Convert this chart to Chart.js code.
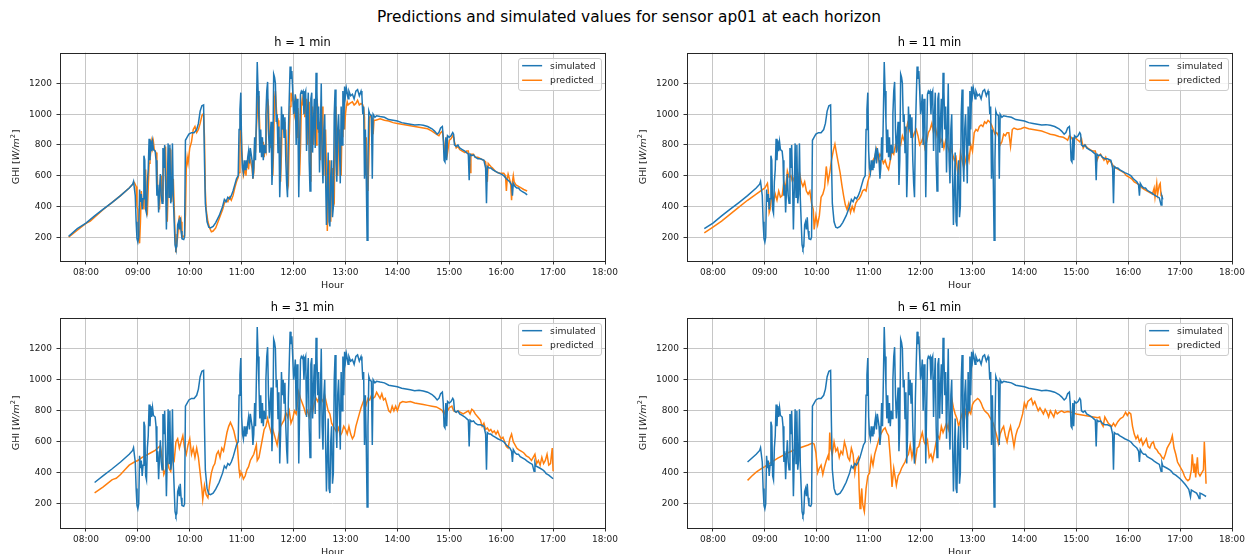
<!DOCTYPE html>
<html>
<head>
<meta charset="utf-8">
<script src="https://cdn.jsdelivr.net/npm/chart.js@4.4.1/dist/chart.umd.min.js"></script>
<style>
  html, body { margin: 0; padding: 0; background: #fff; overflow: hidden; width: 1248px; height: 554px; }
  #suptitle { position: absolute; left: 0; top: 7px; width: 1258px; text-align: center;
              font: 15.4px "DejaVu Sans"; line-height: 20px; color: #000; }
  .panel { position: absolute; width: 621px; }
</style>
</head>
<body>
<div id="suptitle">Predictions and simulated values for sensor ap01 at each horizon</div>
<div class="panel" style="left:0px;top:36px;height:258px"><canvas id="c0"></canvas></div>
<div class="panel" style="left:627px;top:36px;height:258px"><canvas id="c1"></canvas></div>
<div class="panel" style="left:0px;top:301px;height:260px"><canvas id="c2"></canvas></div>
<div class="panel" style="left:627px;top:301px;height:260px"><canvas id="c3"></canvas></div>
<script>
// ---------- data ----------
const horizons = [1, 11, 31, 61];
const windowStart = ['07:40', '07:50', '08:10', '08:40'];
const windowEnd = ['16:30', '16:40', '17:00', '17:30'];
const hourTicks = ['08:00','09:00','10:00','11:00','12:00','13:00','14:00','15:00','16:00','17:00','18:00'];
const ghiTicks = [200, 400, 600, 800, 1000, 1200];

// simulated GHI, same series in every panel (each panel shows its own window)
const simulated = [
  ['07:40',205],['07:50',255],['08:00',292],['08:10',338],['08:20',382],['08:30',425],['08:40',470],['08:50',520],
  ['08:54',545],['08:55',562],['08:57',470],['08:58',300],['08:59',190],['09:00',168],['09:01',200],['09:02',510],
  ['09:03',430],['09:04',480],['09:05',380],['09:06',450],['09:07',730],['09:08',700],['09:09',380],['09:10',355],
  ['09:11',560],['09:12',640],['09:13',840],['09:14',700],['09:15',830],['09:16',760],['09:17',820],['09:18',770],
  ['09:20',760],['09:21',700],['09:22',470],['09:23',540],['09:24',360],['09:25',500],['09:26',610],['09:27',470],
  ['09:28',420],['09:29',780],['09:30',650],['09:31',800],['09:32',560],['09:33',250],['09:34',500],['09:35',810],
  ['09:36',460],['09:37',800],['09:38',420],['09:39',480],['09:40',810],['09:41',450],['09:42',300],['09:43',150],
  ['09:44',125],['09:45',140],['09:46',280],['09:47',300],['09:48',250],['09:49',330],['09:50',240],['09:51',190],
  ['09:53',185],['09:54',200],['09:55',830],['09:57',850],['09:59',870],['10:02',880],['10:05',880],['10:08',900],
  ['10:10',940],['10:12',1020],['10:14',1055],['10:16',1060],['10:17',700],['10:18',420],['10:20',300],['10:22',265],
  ['10:24',260],['10:27',270],['10:30',295],['10:34',340],['10:38',400],['10:40',445],['10:42',430],['10:44',460],
  ['10:46',450],['10:48',470],['10:50',500],['10:52',540],['10:54',580],['10:56',600],['10:57',900],['10:58',1030],
  ['10:59',1140],['11:00',760],['11:01',650],['11:02',620],['11:03',700],['11:04',640],['11:05',700],['11:06',650],
  ['11:07',720],['11:08',760],['11:09',680],['11:10',780],['11:11',740],['11:12',700],['11:13',580],['11:14',650],
  ['11:15',850],['11:16',700],['11:17',1000],['11:18',1340],['11:19',1150],['11:20',950],['11:21',750],['11:22',900],
  ['11:23',720],['11:24',850],['11:25',700],['11:26',800],['11:27',750],['11:28',1000],['11:29',1150],['11:30',1210],
  ['11:31',900],['11:32',750],['11:33',850],['11:34',950],['11:35',540],['11:36',700],['11:37',1260],['11:38',1240],
  ['11:39',1200],['11:40',950],['11:41',1000],['11:42',750],['11:43',920],['11:44',460],['11:45',650],['11:46',1050],
  ['11:47',900],['11:48',1000],['11:49',850],['11:50',980],['11:51',700],['11:52',550],['11:53',460],['11:54',880],
  ['11:55',1100],['11:56',1310],['11:57',1230],['11:58',1280],['11:59',1150],['12:00',1000],['12:01',1050],['12:02',1130],
  ['12:03',800],['12:04',1100],['12:05',960],['12:06',460],['12:07',800],['12:08',1130],['12:09',1150],['12:10',1140],
  ['12:11',1150],['12:12',1000],['12:13',1130],['12:14',1150],['12:15',760],['12:16',1000],['12:17',1140],['12:18',700],
  ['12:19',500],['12:20',1100],['12:21',1140],['12:22',750],['12:23',950],['12:24',1100],['12:25',780],['12:26',1270],
  ['12:27',1150],['12:28',900],['12:29',1050],['12:30',620],['12:31',900],['12:32',1200],['12:33',700],['12:34',550],
  ['12:35',900],['12:36',1000],['12:37',600],['12:38',280],['12:39',500],['12:40',750],['12:41',300],['12:42',270],
  ['12:43',600],['12:44',700],['12:45',330],['12:46',400],['12:47',1000],['12:48',1160],['12:49',700],['12:50',560],
  ['12:51',900],['12:52',1000],['12:53',800],['12:54',550],['12:55',1050],['12:56',800],['12:57',1150],['12:58',900],
  ['12:59',1180],['13:00',1120],['13:01',1170],['13:02',1140],['13:03',1100],['13:04',1150],['13:06',1120],['13:08',1130],
  ['13:10',1100],['13:12',1150],['13:14',1160],['13:16',1120],['13:18',1150],['13:19',1120],['13:20',1000],['13:21',1050],
  ['13:22',580],['13:23',900],['13:24',600],['13:25',180],['13:26',700],['13:27',1020],['13:28',1000],['13:30',990],
  ['13:31',580],['13:32',1000],['13:34',980],['13:36',990],['13:40',985],['13:45',980],['13:50',965],['13:55',960],
  ['14:00',955],['14:05',945],['14:10',940],['14:15',935],['14:20',930],['14:25',932],['14:30',928],['14:35',920],
  ['14:40',905],['14:43',890],['14:46',870],['14:48',880],['14:50',910],['14:52',920],['14:53',850],['14:54',700],
  ['14:55',690],['14:56',850],['14:57',700],['14:58',860],['15:00',850],['15:02',860],['15:04',880],['15:05',870],
  ['15:06',800],['15:08',790],['15:10',800],['15:12',780],['15:15',770],['15:18',760],['15:20',750],['15:22',740],
  ['15:23',570],['15:24',740],['15:26',730],['15:28',735],['15:30',720],['15:33',710],['15:36',710],['15:40',700],
  ['15:42',650],['15:43',420],['15:44',660],['15:46',650],['15:48',650],['15:50',640],['15:53',630],['15:56',620],
  ['16:00',610],['16:03',600],['16:06',580],['16:08',570],['16:10',560],['16:12',540],['16:13',470],['16:14',550],
  ['16:16',530],['16:18',520],['16:20',520],['16:22',505],['16:25',495],['16:28',485],['16:30',475],['16:33',465],
  ['16:36',455],['16:38',410],['16:39',465],['16:40',445],['16:45',430],['16:48',420],['16:50',410],['16:52',395],
  ['16:55',385],['17:00',362],['17:03',345],['17:06',325],['17:08',310],['17:10',295],['17:12',245],['17:13',290],
  ['17:16',280],['17:19',270],['17:21',250],['17:22',235],['17:23',270],['17:25',265],['17:28',255],['17:30',248]
];

// predicted GHI, h = 1 min
const predicted1 = [
  ['07:40',200],['07:50',245],['08:00',290],['08:05',305],['08:10',330],['08:20',380],['08:30',425],['08:40',470],
  ['08:50',520],['08:56',555],['08:58',530],['08:59',400],['09:00',380],['09:01',200],['09:02',160],['09:03',300],
  ['09:04',500],['09:05',400],['09:06',450],['09:07',380],['09:08',600],['09:09',640],['09:10',380],['09:11',360],
  ['09:12',520],['09:13',680],['09:14',800],['09:15',760],['09:16',820],['09:17',780],['09:18',820],['09:19',770],
  ['09:21',750],['09:22',700],['09:23',500],['09:24',480],['09:25',380],['09:26',520],['09:27',600],['09:28',470],
  ['09:29',430],['09:30',750],['09:31',680],['09:32',790],['09:33',520],['09:34',300],['09:35',500],['09:36',780],
  ['09:37',470],['09:38',770],['09:39',430],['09:40',490],['09:41',580],['09:42',400],['09:43',220],['09:44',100],
  ['09:45',160],['09:46',200],['09:47',280],['09:48',340],['09:49',260],['09:50',300],['09:51',220],['09:52',200],
  ['09:54',210],['09:55',350],['09:56',650],['09:57',720],['09:58',680],['10:00',780],['10:02',820],['10:04',900],
  ['10:06',920],['10:08',880],['10:10',900],['10:12',940],['10:14',990],['10:15',1000],['10:16',1000],['10:17',850],
  ['10:18',500],['10:19',380],['10:21',300],['10:23',260],['10:25',235],['10:27',240],['10:30',260],['10:34',320],
  ['10:38',380],['10:40',420],['10:42',440],['10:44',430],['10:46',460],['10:48',440],['10:50',470],['10:52',520],
  ['10:54',560],['10:56',590],['10:57',620],['10:58',800],['10:59',1000],['11:00',800],['11:01',680],['11:02',600],
  ['11:03',620],['11:04',660],['11:05',600],['11:06',680],['11:07',700],['11:08',640],['11:09',720],['11:10',700],
  ['11:12',650],['11:13',580],['11:14',620],['11:15',800],['11:16',750],['11:17',900],['11:18',1000],['11:19',1120],
  ['11:20',1050],['11:21',900],['11:22',760],['11:23',850],['11:24',740],['11:25',820],['11:26',720],['11:27',780],
  ['11:28',760],['11:29',950],['11:30',1100],['11:31',1050],['11:32',850],['11:33',780],['11:34',900],['11:35',850],
  ['11:36',600],['11:37',800],['11:38',1100],['11:39',1150],['11:40',1050],['11:41',950],['11:42',960],['11:43',780],
  ['11:44',850],['11:45',560],['11:46',750],['11:47',1000],['11:48',900],['11:49',950],['11:50',850],['11:51',900],
  ['11:52',750],['11:53',580],['11:54',550],['11:55',850],['11:56',1050],['11:57',1140],['11:58',1100],['11:59',1120],
  ['12:00',1050],['12:01',1000],['12:02',1050],['12:03',1080],['12:04',850],['12:05',1040],['12:06',950],['12:07',600],
  ['12:08',780],['12:09',1050],['12:10',1100],['12:11',1060],['12:12',1080],['12:13',980],['12:14',1060],['12:15',1100],
  ['12:16',800],['12:17',950],['12:18',1080],['12:19',750],['12:20',560],['12:21',1000],['12:22',1050],['12:23',800],
  ['12:24',880],['12:25',1020],['12:26',800],['12:27',1100],['12:28',1040],['12:29',880],['12:30',950],['12:31',700],
  ['12:32',850],['12:33',1050],['12:34',750],['12:35',600],['12:36',850],['12:37',900],['12:38',650],['12:39',240],
  ['12:40',450],['12:41',700],['12:42',400],['12:43',300],['12:44',600],['12:45',650],['12:46',400],['12:47',420],
  ['12:48',900],['12:49',1050],['12:50',750],['12:51',600],['12:52',850],['12:53',900],['12:54',800],['12:55',600],
  ['12:56',950],['12:57',850],['12:58',1050],['12:59',900],['13:00',1000],['13:01',1050],['13:02',1080],['13:03',1060],
  ['13:05',1070],['13:08',1080],['13:10',1060],['13:12',1070],['13:14',1090],['13:16',1060],['13:18',1070],['13:20',1060],
  ['13:21',1040],['13:22',980],['13:23',600],['13:24',850],['13:25',650],['13:26',500],['13:27',700],['13:28',980],
  ['13:29',990],['13:31',970],['13:32',870],['13:33',960],['13:35',960],['13:40',970],['13:45',960],['13:50',955],
  ['13:55',945],['14:00',940],['14:05',935],['14:10',930],['14:15',925],['14:20',920],['14:25',915],['14:30',910],
  ['14:35',905],['14:40',890],['14:45',870],['14:48',860],['14:50',880],['14:52',890],['14:54',800],['14:55',720],
  ['14:56',780],['14:57',820],['14:58',750],['15:00',830],['15:02',840],['15:04',860],['15:05',850],['15:06',820],
  ['15:08',780],['15:10',790],['15:12',770],['15:15',760],['15:18',750],['15:20',760],['15:22',760],['15:24',620],
  ['15:25',740],['15:28',740],['15:30',720],['15:33',720],['15:36',710],['15:40',700],['15:42',690],['15:44',560],
  ['15:45',680],['15:48',660],['15:50',650],['15:53',630],['15:56',620],['16:00',615],['16:03',615],['16:05',600],
  ['16:06',500],['16:07',580],['16:08',610],['16:10',570],['16:11',540],['16:12',440],['16:13',560],['16:14',600],
  ['16:15',560],['16:17',540],['16:20',530],['16:23',520],['16:26',510],['16:28',505],['16:30',500]
];

// predicted GHI, h = 11 min
const predicted11 = [
  ['07:50',228],['08:00',265],['08:10',305],['08:20',350],['08:30',395],['08:40',440],['08:50',480],['09:00',520],
  ['09:03',550],['09:04',500],['09:05',360],['09:06',380],['09:08',470],['09:10',430],['09:12',480],['09:14',440],
  ['09:16',500],['09:18',460],['09:20',470],['09:22',560],['09:24',520],['09:26',630],['09:28',590],['09:30',600],
  ['09:32',560],['09:34',590],['09:36',520],['09:38',560],['09:40',620],['09:42',560],['09:44',530],['09:46',560],
  ['09:48',500],['09:50',480],['09:52',500],['09:54',420],['09:56',380],['09:57',250],['09:59',340],['10:01',280],
  ['10:03',340],['10:05',460],['10:07',480],['10:09',520],['10:11',660],['10:13',560],['10:15',620],['10:17',700],
  ['10:19',760],['10:21',805],['10:23',740],['10:25',680],['10:27',620],['10:29',540],['10:31',470],['10:33',410],
  ['10:35',380],['10:37',420],['10:39',360],['10:41',400],['10:43',370],['10:45',420],['10:47',440],['10:49',450],
  ['10:51',470],['10:53',500],['10:55',510],['10:57',500],['10:59',560],['11:01',600],['11:03',650],['11:05',700],
  ['11:07',720],['11:09',770],['11:11',700],['11:13',740],['11:15',720],['11:17',680],['11:19',700],['11:21',660],
  ['11:23',640],['11:25',700],['11:27',760],['11:29',740],['11:31',800],['11:33',770],['11:35',820],['11:37',800],
  ['11:39',860],['11:41',830],['11:43',880],['11:45',940],['11:47',900],['11:49',870],['11:51',850],['11:53',880],
  ['11:55',900],['11:57',860],['11:59',800],['12:01',820],['12:03',850],['12:05',780],['12:07',820],['12:09',880],
  ['12:11',900],['12:13',940],['12:15',880],['12:17',920],['12:19',860],['12:21',900],['12:23',820],['12:25',840],
  ['12:27',780],['12:29',830],['12:31',800],['12:33',760],['12:35',780],['12:37',740],['12:39',700],['12:41',720],
  ['12:43',620],['12:44',600],['12:46',750],['12:48',700],['12:50',650],['12:52',700],['12:54',760],['12:56',700],
  ['12:58',800],['13:00',760],['13:02',880],['13:04',900],['13:06',890],['13:08',920],['13:10',930],['13:12',920],
  ['13:14',950],['13:16',940],['13:18',960],['13:20',950],['13:22',930],['13:24',900],['13:26',870],['13:28',880],
  ['13:30',860],['13:32',800],['13:34',820],['13:36',870],['13:38',860],['13:40',880],['13:42',880],['13:44',790],
  ['13:46',900],['13:48',910],['13:52',900],['13:56',905],['14:00',915],['14:05',905],['14:10',900],['14:15',895],
  ['14:20',890],['14:25',880],['14:30',870],['14:35',865],['14:40',855],['14:45',850],['14:48',840],['14:50',830],
  ['14:52',860],['14:54',850],['14:56',830],['14:58',850],['15:00',840],['15:02',830],['15:04',820],['15:06',840],
  ['15:08',780],['15:10',800],['15:13',780],['15:16',770],['15:19',760],['15:22',760],['15:24',700],['15:26',730],
  ['15:28',740],['15:30',720],['15:32',700],['15:34',720],['15:36',680],['15:38',700],['15:40',690],['15:43',660],
  ['15:46',650],['15:49',640],['15:52',630],['15:55',620],['15:58',600],['16:01',590],['16:04',580],['16:07',560],
  ['16:10',550],['16:13',540],['16:16',520],['16:19',510],['16:22',500],['16:25',490],['16:28',480],['16:30',520],
  ['16:31',460],['16:33',550],['16:34',480],['16:36',540],['16:37',550],['16:38',470],['16:40',465]
];

// predicted GHI, h = 31 min
const predicted31 = [
  ['08:10',272],['08:20',310],['08:30',355],['08:32',360],['08:35',365],['08:40',390],['08:45',420],['08:50',450],
  ['08:56',470],['09:00',480],['09:05',500],['09:10',515],['09:15',530],['09:20',545],['09:25',570],['09:26',575],
  ['09:28',500],['09:30',390],['09:32',420],['09:34',480],['09:36',430],['09:38',410],['09:40',500],['09:42',480],
  ['09:44',600],['09:46',620],['09:48',560],['09:50',600],['09:52',640],['09:54',560],['09:56',520],['09:58',580],
  ['10:00',620],['10:02',520],['10:04',560],['10:06',500],['10:08',560],['10:10',500],['10:12',400],['10:14',300],
  ['10:15',230],['10:17',320],['10:19',260],['10:21',240],['10:23',330],['10:25',400],['10:27',440],['10:29',460],
  ['10:31',520],['10:33',540],['10:35',500],['10:37',560],['10:39',540],['10:41',600],['10:43',660],['10:45',700],
  ['10:47',725],['10:49',700],['10:51',670],['10:53',620],['10:55',580],['10:57',420],['10:58',380],['11:00',400],
  ['11:02',360],['11:04',380],['11:06',420],['11:08',440],['11:10',480],['11:12',500],['11:14',520],['11:16',560],
  ['11:17',580],['11:18',480],['11:20',500],['11:22',560],['11:24',620],['11:26',680],['11:28',700],['11:30',750],
  ['11:32',700],['11:34',660],['11:36',680],['11:38',640],['11:40',600],['11:41',580],['11:43',650],['11:45',700],
  ['11:47',720],['11:49',740],['11:51',790],['11:53',760],['11:55',800],['11:57',720],['11:59',750],['12:01',800],
  ['12:03',780],['12:05',860],['12:06',920],['12:08',880],['12:10',850],['12:12',820],['12:14',780],['12:16',800],
  ['12:18',760],['12:20',820],['12:22',790],['12:24',850],['12:26',880],['12:28',860],['12:30',900],['12:32',880],
  ['12:34',860],['12:36',900],['12:38',850],['12:40',800],['12:42',780],['12:44',720],['12:46',700],['12:48',680],
  ['12:50',660],['12:52',690],['12:54',640],['12:56',660],['12:58',700],['13:00',680],['13:02',650],['13:04',700],
  ['13:06',650],['13:08',620],['13:10',640],['13:12',700],['13:14',740],['13:16',780],['13:18',820],['13:20',850],
  ['13:22',880],['13:24',840],['13:26',880],['13:28',870],['13:30',900],['13:32',880],['13:34',890],['13:36',920],
  ['13:38',900],['13:40',880],['13:42',910],['13:44',870],['13:46',880],['13:48',840],['13:50',800],['13:52',790],
  ['13:54',830],['13:56',800],['13:58',830],['14:00',800],['14:03',850],['14:06',860],['14:10',855],['14:15',860],
  ['14:20',850],['14:25',845],['14:30',840],['14:35',835],['14:40',830],['14:45',825],['14:50',810],['14:52',800],
  ['14:54',780],['14:56',810],['14:58',800],['15:00',820],['15:03',830],['15:05',800],['15:08',790],['15:10',800],
  ['15:13',790],['15:16',780],['15:19',790],['15:22',800],['15:24',780],['15:26',810],['15:28',800],['15:30',780],
  ['15:33',760],['15:36',740],['15:38',700],['15:40',720],['15:42',680],['15:44',690],['15:46',670],['15:48',680],
  ['15:50',660],['15:52',670],['15:54',650],['15:56',670],['15:58',640],['16:00',620],['16:02',630],['16:04',600],
  ['16:06',570],['16:08',560],['16:10',620],['16:12',650],['16:14',600],['16:16',580],['16:18',560],['16:20',550],
  ['16:23',540],['16:26',530],['16:29',510],['16:32',500],['16:35',480],['16:37',500],['16:39',520],['16:41',460],
  ['16:43',480],['16:45',450],['16:47',500],['16:49',460],['16:51',480],['16:53',520],['16:55',450],['16:57',460],
  ['16:59',560],['17:00',410]
];

// predicted GHI, h = 61 min
const predicted61 = [
  ['08:40',352],['08:45',380],['08:50',405],['08:55',425],['09:00',440],['09:05',460],['09:10',478],['09:15',495],
  ['09:20',510],['09:25',525],['09:30',538],['09:35',550],['09:40',560],['09:45',570],['09:50',580],['09:55',592],
  ['09:57',585],['09:59',530],['10:01',400],['10:03',430],['10:05',450],['10:07',390],['10:09',440],['10:11',480],
  ['10:13',510],['10:14',480],['10:15',660],['10:16',560],['10:18',520],['10:20',600],['10:22',540],['10:24',560],
  ['10:26',500],['10:28',540],['10:30',520],['10:32',600],['10:34',560],['10:36',500],['10:38',480],['10:40',560],
  ['10:42',520],['10:44',400],['10:46',480],['10:48',500],['10:49',300],['10:50',170],['10:51',230],['10:52',300],
  ['10:53',200],['10:55',150],['10:57',300],['10:59',380],['11:01',400],['11:03',500],['11:05',450],['11:07',520],
  ['11:09',560],['11:11',600],['11:13',640],['11:15',660],['11:17',680],['11:19',690],['11:21',660],['11:23',640],
  ['11:25',500],['11:27',310],['11:29',430],['11:31',360],['11:32',320],['11:34',380],['11:36',400],['11:38',430],
  ['11:40',450],['11:42',470],['11:44',500],['11:46',520],['11:48',580],['11:50',500],['11:52',560],['11:54',480],
  ['11:56',560],['11:58',570],['12:00',620],['12:02',660],['12:04',600],['12:06',580],['12:08',610],['12:10',500],
  ['12:12',520],['12:14',480],['12:16',540],['12:18',600],['12:20',640],['12:22',620],['12:24',700],['12:26',660],
  ['12:28',690],['12:30',720],['12:32',680],['12:34',760],['12:36',880],['12:38',820],['12:40',780],['12:42',750],
  ['12:44',700],['12:46',740],['12:48',780],['12:50',720],['12:52',800],['12:54',760],['12:56',800],['12:58',780],
  ['13:00',840],['13:02',860],['13:04',870],['13:06',880],['13:08',870],['13:10',850],['13:12',820],['13:14',800],
  ['13:16',790],['13:18',780],['13:20',760],['13:22',740],['13:24',720],['13:26',680],['13:28',640],['13:30',590],
  ['13:32',650],['13:34',680],['13:36',700],['13:38',640],['13:40',600],['13:42',660],['13:44',700],['13:46',640],
  ['13:48',570],['13:50',640],['13:52',680],['13:54',700],['13:56',740],['13:58',780],['14:00',850],['14:02',820],
  ['14:04',860],['14:06',870],['14:08',880],['14:10',840],['14:12',860],['14:14',830],['14:16',800],['14:18',820],
  ['14:20',800],['14:22',780],['14:24',810],['14:26',790],['14:28',760],['14:30',800],['14:32',780],['14:34',760],
  ['14:36',800],['14:38',780],['14:40',790],['14:43',800],['14:46',790],['14:50',795],['14:55',790],['15:00',780],
  ['15:05',775],['15:10',770],['15:15',765],['15:20',760],['15:25',755],['15:27',760],['15:29',720],['15:31',700],
  ['15:33',760],['15:35',740],['15:37',720],['15:39',710],['15:41',700],['15:43',720],['15:45',700],['15:48',730],
  ['15:51',750],['15:54',760],['15:57',790],['15:59',770],['16:01',790],['16:03',780],['16:05',700],['16:07',650],
  ['16:09',620],['16:11',640],['16:13',600],['16:15',620],['16:17',580],['16:19',600],['16:21',620],['16:23',570],
  ['16:25',560],['16:27',590],['16:29',600],['16:31',560],['16:33',550],['16:35',530],['16:37',520],['16:39',500],
  ['16:41',490],['16:43',520],['16:45',560],['16:47',580],['16:49',600],['16:51',640],['16:53',560],['16:55',520],
  ['16:57',470],['16:59',450],['17:01',430],['17:03',410],['17:05',380],['17:07',360],['17:09',350],['17:11',360],
  ['17:13',420],['17:14',520],['17:16',400],['17:17',460],['17:18',370],['17:20',500],['17:21',400],['17:23',380],
  ['17:25',400],['17:27',420],['17:28',600],['17:29',480],['17:30',330]
];

const predictedByHorizon = [predicted1, predicted11, predicted31, predicted61];

// ---------- helpers ----------
const toMin = (s) => { const p = s.split(':'); return (+p[0]) * 60 + (+p[1]); };
const fmtHour = (v) => {
  const h = Math.floor(v / 60), m = Math.round(v - h * 60);
  return String(h).padStart(2, '0') + ':' + String(m).padStart(2, '0');
};
const toPoints = (pairs) => pairs.map(p => ({ x: toMin(p[0]), y: p[1] }));

const FONT = '"DejaVu Sans", sans-serif';
const BLUE = '#1f77b4';
const ORANGE = '#ff7f0e';
const GRID = '#c6c6c6';
const INK = '#1a1a1a';

Chart.defaults.font.family = FONT;
Chart.defaults.color = INK;

// frame, legend box inside the axes and the mathtext-like y label
const panelDeco = {
  id: 'panelDeco',
  afterDatasetsDraw(chart) {
    const { ctx, chartArea: a } = chart;
    ctx.save();
    // spines on all four sides
    ctx.strokeStyle = '#262626';
    ctx.lineWidth = 1;
    const l = Math.round(a.left) + 0.5, t = Math.round(a.top) + 0.5;
    ctx.strokeRect(l, t, Math.round(a.right) - Math.round(a.left), Math.round(a.bottom) - Math.round(a.top));

    // legend (upper right)
    const items = chart.data.datasets.map(d => ({ label: d.label, color: d.borderColor }));
    ctx.font = '9.2px ' + FONT;
    const tw = Math.max(...items.map(it => ctx.measureText(it.label).width));
    const bw = 4.5 + 20 + 8 + tw + 5;
    const bh = 31.5;
    const bx = a.right - 4.5 - bw, by = a.top + 5;
    ctx.beginPath();
    ctx.roundRect(Math.round(bx) + 0.5, Math.round(by) + 0.5, Math.round(bw), Math.round(bh), 2.5);
    ctx.fillStyle = 'rgba(255,255,255,0.8)';
    ctx.fill();
    ctx.strokeStyle = '#cccccc';
    ctx.stroke();
    items.forEach((it, i) => {
      const y = by + 8 + i * 14.6;
      ctx.strokeStyle = it.color;
      ctx.lineWidth = 1.5;
      ctx.beginPath();
      ctx.moveTo(bx + 4.5, y);
      ctx.lineTo(bx + 24.5, y);
      ctx.stroke();
      ctx.fillStyle = INK;
      ctx.textBaseline = 'middle';
      ctx.textAlign = 'left';
      ctx.fillText(it.label, bx + 32.5, y + 0.5);
    });
    ctx.restore();
  },
  afterDraw(chart) {
    // y label: GHI [W/m^2] with italic unit
    const { ctx, chartArea: a } = chart;
    const parts = [
      { t: 'GHI [', f: '9.5px ' + FONT, dy: 0 },
      { t: 'W/m', f: 'italic 9.5px ' + FONT, dy: 0 },
      { t: '2', f: '6.6px ' + FONT, dy: -3.5 },
      { t: ']', f: '9.5px ' + FONT, dy: 0 }
    ];
    ctx.save();
    let total = 0;
    parts.forEach(p => { ctx.font = p.f; p.w = ctx.measureText(p.t).width + (p.t === '2' ? 1 : 0); total += p.w; });
    ctx.translate(a.left - 44, (a.top + a.bottom) / 2);
    ctx.rotate(-Math.PI / 2);
    ctx.fillStyle = INK;
    ctx.textBaseline = 'middle';
    ctx.textAlign = 'left';
    let x = -total / 2;
    parts.forEach(p => { ctx.font = p.f; ctx.fillText(p.t, x, p.dy + 0.5); x += p.w; });
    ctx.restore();
  }
};

horizons.forEach((h, i) => {
  const from = toMin(windowStart[i]), to = toMin(windowEnd[i]);
  const simPoints = toPoints(simulated).filter(p => p.x >= from && p.x <= to);
  const predPoints = toPoints(predictedByHorizon[i]);

  new Chart(document.getElementById('c' + i), {
    type: 'line',
    data: {
      datasets: [
        { label: 'simulated', data: simPoints, borderColor: BLUE, backgroundColor: BLUE,
          borderWidth: 1.5, pointRadius: 0, tension: 0, fill: false },
        { label: 'predicted', data: predPoints, borderColor: ORANGE, backgroundColor: ORANGE,
          borderWidth: 1.5, pointRadius: 0, tension: 0, fill: false }
      ]
    },
    options: {
      responsive: true,
      maintainAspectRatio: false,
      animation: false,
      events: [],
      layout: { padding: { left: 0, right: 16, top: 0, bottom: 0 } },
      plugins: {
        legend: { display: false },
        tooltip: { enabled: false },
        title: {
          display: true,
          text: 'h = ' + h + ' min',
          color: '#000',
          font: { size: 11.4, weight: 'normal', family: FONT },
          padding: { top: 0, bottom: 3 }
        }
      },
      scales: {
        x: {
          type: 'linear',
          min: toMin('07:30'),
          max: toMin('18:00'),
          afterBuildTicks: (s) => { s.ticks = hourTicks.map(t => ({ value: toMin(t) })); },
          afterFit: (s) => { s.height = 33; },
          ticks: { callback: (v) => fmtHour(v), font: { size: 9 }, color: INK, padding: 3, maxRotation: 0, autoSkip: false },
          grid: { color: GRID, lineWidth: 1, tickLength: 3.5, tickColor: '#333', tickWidth: 1 },
          border: { display: false },
          title: { display: true, text: 'Hour', color: INK, font: { size: 9.5 }, padding: { top: 0, bottom: 2.5 } }
        },
        y: {
          type: 'linear',
          min: 45,
          max: 1400,
          afterBuildTicks: (s) => { s.ticks = ghiTicks.map(v => ({ value: v })); },
          afterFit: (s) => { s.width = 60; },
          ticks: { callback: (v) => String(v), font: { size: 9 }, color: INK, padding: 4.5 },
          grid: { color: GRID, lineWidth: 1, tickLength: 3.5, tickColor: '#333', tickWidth: 1 },
          border: { display: false }
        }
      }
    },
    plugins: [panelDeco]
  });
});
</script>
</body>
</html>
